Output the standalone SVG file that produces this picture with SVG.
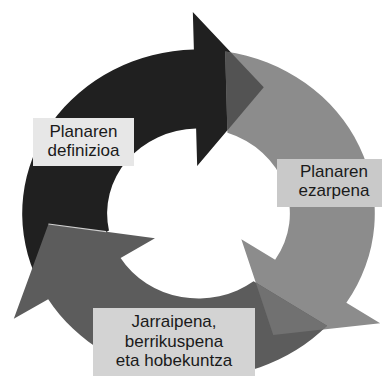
<svg xmlns="http://www.w3.org/2000/svg" xmlns:xlink="http://www.w3.org/1999/xlink" width="382" height="376" viewBox="0 0 382 376">
  <style>
    .lbl { font-family: "Liberation Sans", Arial, sans-serif; font-size: 17px; fill: #1a1a1a; text-anchor: middle; }
    .dark { fill: #202020; }
    .gray { fill: #8c8c8c; }
    .mid { fill: #5c5c5c; }
  </style>
  <defs>
    <path id="arrowDark" d="M -152.80 59.57 A 164 164 0 0 1 -4.29 -163.94 L -5.27 -201.43 L 60.72 -126.14 L -1.24 -47.48 L -2.23 -84.97 A 85 85 0 0 0 -83.28 17.02 Z"/>
    <path id="arrowGray" d="M 24.81 -162.11 A 164 164 0 0 1 137.54 89.32 L 168.99 109.74 L 69.55 121.48 L 39.84 25.87 L 71.29 46.29 A 85 85 0 0 0 26.90 -80.63 Z"/>
    <path id="arrowMid" d="M 119.55 112.27 A 164 164 0 0 1 -139.83 85.69 L -171.81 105.28 L -139.59 10.48 L -40.50 24.82 L -72.47 44.41 A 85 85 0 0 0 51.21 67.84 Z"/>
    <clipPath id="clipGray" clipPathUnits="userSpaceOnUse"><use xlink:href="#arrowGray"/></clipPath>
    <clipPath id="clipMid" clipPathUnits="userSpaceOnUse"><use xlink:href="#arrowMid"/></clipPath>
  </defs>
  <rect width="382" height="376" fill="#ffffff"/>
  <g id="connectors" transform="translate(198.5 213.5) scale(1.075 1)">
    <use xlink:href="#arrowDark" class="dark"/>
    <use xlink:href="#arrowGray" class="gray"/>
    <use xlink:href="#arrowMid" class="mid"/>
    <path d="M -5.27 -201.43 L 60.72 -126.14 L -1.24 -47.48 Z" fill="#535353" clip-path="url(#clipGray)"/>
    <path d="M 168.99 109.74 L 69.55 121.48 L 39.84 25.87 Z" fill="#717171" clip-path="url(#clipMid)"/>
    <line x1="-139.59" y1="10.48" x2="-86" y2="18.2" stroke="#cfcfcf" stroke-width="1.2" vector-effect="non-scaling-stroke"/>
  </g>
  <g id="node-definizioa">
    <rect x="33" y="118" width="101" height="48" fill="#e7e7e7"/>
    <text class="lbl" x="83.5" y="137">Planaren</text>
    <text class="lbl" x="83.5" y="156">definizioa</text>
  </g>
  <g id="node-ezarpena">
    <rect x="277" y="159" width="108" height="48" fill="#c9c9c9"/>
    <text class="lbl" x="334" y="177">Planaren</text>
    <text class="lbl" x="334" y="196">ezarpena</text>
  </g>
  <g id="node-jarraipena">
    <rect x="93" y="308" width="162" height="70" fill="#d3d3d3"/>
    <text class="lbl" x="174" y="327">Jarraipena,</text>
    <text class="lbl" x="174" y="346.5">berrikuspena</text>
    <text class="lbl" x="174" y="366">eta hobekuntza</text>
  </g>
</svg>
